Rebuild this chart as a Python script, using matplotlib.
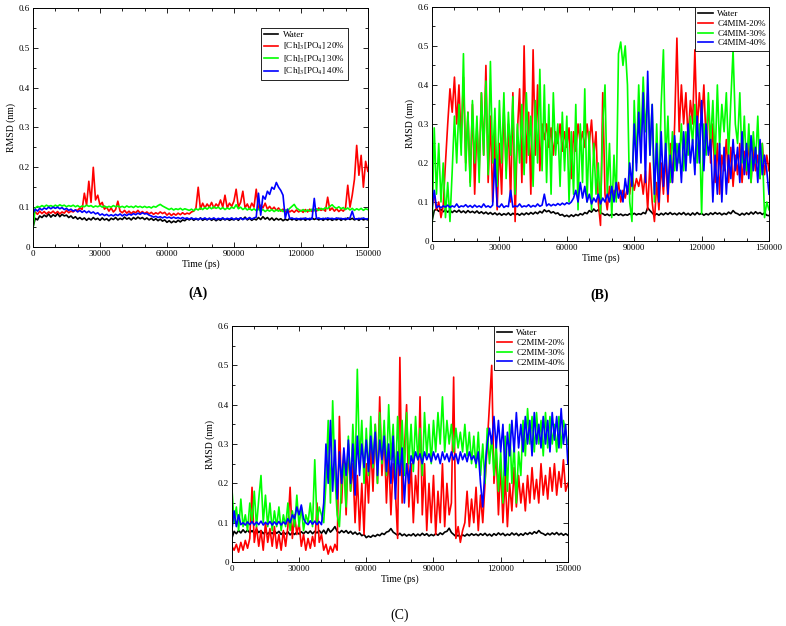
import numpy as np
import matplotlib.pyplot as plt
from matplotlib.ticker import MultipleLocator, FuncFormatter

plt.rcParams['font.family'] = ['Liberation Serif', 'DejaVu Serif']
plt.rcParams['mathtext.fontset'] = 'stix'

# time axis, one reading every 1000 ps
time_ps = np.arange(0, 150001, 1000)

# ---- panel A: [Ch]3[PO4] ----
a_water = [0.050, 0.072, 0.068, 0.078, 0.074, 0.080, 0.076, 0.083, 0.075, 0.081,
           0.077, 0.084, 0.076, 0.082, 0.078, 0.080, 0.074, 0.078, 0.072, 0.076,
           0.070, 0.074, 0.069, 0.073, 0.067, 0.072, 0.068, 0.074, 0.069, 0.072,
           0.067, 0.073, 0.068, 0.071, 0.066, 0.072, 0.069, 0.074, 0.068, 0.072,
           0.069, 0.075, 0.070, 0.073, 0.068, 0.074, 0.070, 0.075, 0.071, 0.074,
           0.069, 0.073, 0.068, 0.072, 0.067, 0.071, 0.066, 0.070, 0.065, 0.068,
           0.062, 0.066, 0.061, 0.065, 0.062, 0.067, 0.063, 0.068, 0.066, 0.071,
           0.068, 0.072, 0.067, 0.071, 0.068, 0.073, 0.067, 0.071, 0.068, 0.072,
           0.067, 0.071, 0.066, 0.070, 0.067, 0.072, 0.068, 0.071, 0.067, 0.070,
           0.068, 0.072, 0.067, 0.073, 0.069, 0.075, 0.068, 0.072, 0.067, 0.071,
           0.068, 0.074, 0.069, 0.076, 0.070, 0.074, 0.068, 0.073, 0.067, 0.072,
           0.068, 0.071, 0.066, 0.070, 0.067, 0.072, 0.068, 0.071, 0.067, 0.070,
           0.068, 0.072, 0.067, 0.071, 0.068, 0.073, 0.069, 0.072, 0.068, 0.071,
           0.067, 0.072, 0.068, 0.071, 0.067, 0.070, 0.068, 0.072, 0.067, 0.071,
           0.068, 0.073, 0.069, 0.072, 0.068, 0.071, 0.067, 0.072, 0.068, 0.070,
           0.068]
a_20 = [0.080, 0.088, 0.082, 0.090, 0.084, 0.089, 0.083, 0.088, 0.085, 0.090,
        0.084, 0.089, 0.083, 0.088, 0.085, 0.092, 0.086, 0.090, 0.088, 0.093,
        0.092, 0.098, 0.094, 0.135, 0.105, 0.165, 0.112, 0.200, 0.118, 0.130,
        0.105, 0.112, 0.095, 0.100, 0.090, 0.098, 0.088, 0.094, 0.115, 0.090,
        0.086, 0.092, 0.085, 0.090, 0.084, 0.089, 0.086, 0.092, 0.085, 0.089,
        0.084, 0.088, 0.083, 0.087, 0.082, 0.086, 0.083, 0.088, 0.084, 0.087,
        0.080, 0.085, 0.079, 0.084, 0.080, 0.085, 0.081, 0.086, 0.082, 0.085,
        0.083, 0.088, 0.090, 0.098, 0.150, 0.095, 0.110, 0.098, 0.108, 0.100,
        0.112, 0.098, 0.108, 0.102, 0.118, 0.100, 0.130, 0.098, 0.110, 0.102,
        0.115, 0.145, 0.100, 0.112, 0.140, 0.098, 0.108, 0.095, 0.110, 0.100,
        0.145, 0.095, 0.105, 0.098, 0.110, 0.095, 0.102, 0.094, 0.100, 0.092,
        0.098, 0.090, 0.095, 0.088, 0.094, 0.088, 0.092, 0.087, 0.093, 0.088,
        0.092, 0.087, 0.094, 0.088, 0.095, 0.089, 0.094, 0.090, 0.098, 0.092,
        0.095, 0.090, 0.125, 0.092, 0.098, 0.090, 0.096, 0.089, 0.094, 0.090,
        0.098, 0.155, 0.100, 0.130, 0.170, 0.255, 0.180, 0.230, 0.150, 0.215,
        0.190]
a_30 = [0.045, 0.098, 0.102, 0.100, 0.104, 0.101, 0.105, 0.102, 0.104, 0.101,
        0.105, 0.102, 0.106, 0.103, 0.105, 0.101, 0.104, 0.102, 0.105, 0.101,
        0.104, 0.100, 0.103, 0.101, 0.105, 0.102, 0.104, 0.100, 0.103, 0.101,
        0.104, 0.100, 0.103, 0.099, 0.102, 0.100, 0.104, 0.101, 0.103, 0.100,
        0.102, 0.099, 0.103, 0.100, 0.102, 0.099, 0.103, 0.100, 0.102, 0.099,
        0.102, 0.099, 0.101, 0.098, 0.102, 0.100, 0.104, 0.107, 0.103, 0.100,
        0.097, 0.094, 0.097, 0.093, 0.096, 0.094, 0.097, 0.093, 0.096, 0.094,
        0.092, 0.095, 0.091, 0.096, 0.093, 0.098, 0.094, 0.099, 0.095, 0.100,
        0.096, 0.101, 0.097, 0.100, 0.095, 0.099, 0.094, 0.098, 0.095, 0.100,
        0.097, 0.106, 0.096, 0.100, 0.094, 0.098, 0.093, 0.097, 0.092, 0.096,
        0.091, 0.095, 0.090, 0.094, 0.089, 0.093, 0.090, 0.094, 0.089, 0.093,
        0.090, 0.094, 0.089, 0.093, 0.091, 0.097, 0.102, 0.107, 0.098, 0.094,
        0.090, 0.094, 0.089, 0.093, 0.090, 0.095, 0.091, 0.096, 0.092, 0.097,
        0.094, 0.099, 0.096, 0.102, 0.106, 0.100, 0.097, 0.101, 0.096, 0.099,
        0.094, 0.098, 0.093, 0.097, 0.092, 0.096, 0.093, 0.097, 0.092, 0.096,
        0.094]
a_40 = [0.085, 0.095, 0.090, 0.097, 0.093, 0.098, 0.095, 0.100, 0.096, 0.100,
        0.097, 0.100, 0.096, 0.099, 0.094, 0.097, 0.092, 0.095, 0.090, 0.093,
        0.088, 0.092, 0.087, 0.091, 0.086, 0.090, 0.085, 0.088, 0.083, 0.086,
        0.080, 0.083, 0.079, 0.082, 0.078, 0.081, 0.078, 0.082, 0.079, 0.083,
        0.078, 0.082, 0.079, 0.083, 0.080, 0.084, 0.081, 0.085, 0.082, 0.086,
        0.083, 0.084, 0.080, 0.078, 0.075, 0.077, 0.074, 0.076, 0.073, 0.076,
        0.073, 0.075, 0.072, 0.075, 0.072, 0.074, 0.071, 0.074, 0.071, 0.073,
        0.070, 0.073, 0.070, 0.072, 0.069, 0.072, 0.070, 0.073, 0.069, 0.072,
        0.070, 0.073, 0.069, 0.072, 0.070, 0.073, 0.069, 0.072, 0.070, 0.073,
        0.069, 0.072, 0.070, 0.073, 0.069, 0.072, 0.070, 0.074, 0.070, 0.073,
        0.075, 0.135, 0.080, 0.128, 0.120, 0.140, 0.132, 0.150, 0.145, 0.162,
        0.150, 0.142, 0.130, 0.072, 0.095, 0.071, 0.073, 0.070, 0.072, 0.070,
        0.072, 0.070, 0.073, 0.070, 0.072, 0.070, 0.122, 0.071, 0.073, 0.070,
        0.072, 0.070, 0.073, 0.071, 0.072, 0.070, 0.073, 0.071, 0.072, 0.070,
        0.072, 0.070, 0.073, 0.090, 0.071, 0.070, 0.072, 0.070, 0.073, 0.070,
        0.071]

# ---- panel B: C4MIM ----
b_water = [0.050, 0.078, 0.082, 0.076, 0.081, 0.075, 0.080, 0.074, 0.079, 0.073,
           0.078, 0.074, 0.079, 0.073, 0.077, 0.072, 0.078, 0.073, 0.076, 0.072,
           0.077, 0.071, 0.075, 0.070, 0.074, 0.069, 0.073, 0.068, 0.072, 0.067,
           0.071, 0.066, 0.070, 0.067, 0.072, 0.066, 0.071, 0.067, 0.070, 0.066,
           0.071, 0.067, 0.072, 0.068, 0.073, 0.069, 0.074, 0.070, 0.076, 0.072,
           0.080, 0.075, 0.078, 0.072, 0.075, 0.070, 0.072, 0.066, 0.068, 0.063,
           0.066, 0.062, 0.067, 0.063, 0.068, 0.065, 0.070, 0.067, 0.073, 0.070,
           0.078, 0.074, 0.082, 0.076, 0.080, 0.072, 0.070, 0.066, 0.069, 0.065,
           0.069, 0.066, 0.070, 0.066, 0.069, 0.065, 0.068, 0.066, 0.070, 0.067,
           0.071, 0.067, 0.070, 0.068, 0.073, 0.070, 0.085, 0.078, 0.072, 0.066,
           0.070, 0.066, 0.071, 0.067, 0.072, 0.068, 0.073, 0.068, 0.071, 0.067,
           0.072, 0.068, 0.073, 0.067, 0.071, 0.066, 0.072, 0.067, 0.073, 0.068,
           0.071, 0.066, 0.070, 0.067, 0.072, 0.068, 0.073, 0.069, 0.072, 0.067,
           0.071, 0.068, 0.074, 0.070, 0.078, 0.072, 0.070, 0.066, 0.071, 0.067,
           0.072, 0.068, 0.074, 0.069, 0.075, 0.070, 0.073, 0.068, 0.072, 0.066,
           0.065]
b_20 = [0.09, 0.12, 0.08, 0.10, 0.06, 0.09, 0.20, 0.30, 0.39, 0.33,
        0.42, 0.30, 0.40, 0.25, 0.42, 0.20, 0.33, 0.15, 0.35, 0.12,
        0.30, 0.18, 0.38, 0.22, 0.45, 0.15, 0.32, 0.10, 0.28, 0.08,
        0.25, 0.12, 0.35, 0.18, 0.30, 0.10, 0.38, 0.05, 0.28, 0.39,
        0.15, 0.50, 0.20, 0.33, 0.12, 0.49, 0.22, 0.40, 0.18, 0.30,
        0.26, 0.30, 0.24, 0.29, 0.22, 0.28, 0.25, 0.30, 0.23, 0.28,
        0.24, 0.29, 0.16, 0.28, 0.23, 0.30, 0.25, 0.28, 0.24, 0.30,
        0.25, 0.31, 0.22, 0.28, 0.10, 0.04, 0.38, 0.12, 0.08, 0.14,
        0.10, 0.13, 0.11, 0.15, 0.10, 0.13, 0.11, 0.14, 0.12, 0.17,
        0.13, 0.16, 0.14, 0.17, 0.12, 0.18, 0.08, 0.20, 0.10, 0.05,
        0.15, 0.08, 0.20, 0.12, 0.22, 0.10, 0.25, 0.15, 0.30, 0.52,
        0.28, 0.40, 0.30, 0.38, 0.26, 0.36, 0.30, 0.49, 0.28, 0.38,
        0.30, 0.40, 0.25, 0.36, 0.20, 0.30, 0.15, 0.25, 0.12, 0.22,
        0.18, 0.26, 0.15, 0.24, 0.14, 0.22, 0.17, 0.25, 0.15, 0.23,
        0.17, 0.26, 0.15, 0.24, 0.18, 0.22, 0.16, 0.25, 0.17, 0.22,
        0.18]
b_30 = [0.02, 0.29, 0.12, 0.25, 0.10, 0.20, 0.06, 0.15, 0.05, 0.18,
        0.32, 0.20, 0.35, 0.22, 0.48, 0.18, 0.33, 0.14, 0.36, 0.20,
        0.32, 0.15, 0.38, 0.22, 0.41, 0.17, 0.46, 0.20, 0.34, 0.14,
        0.36, 0.20, 0.38, 0.16, 0.33, 0.22, 0.37, 0.12, 0.30, 0.20,
        0.35, 0.17, 0.38, 0.22, 0.32, 0.14, 0.36, 0.20, 0.44, 0.18,
        0.40, 0.15, 0.35, 0.12, 0.38, 0.22, 0.30, 0.14, 0.33, 0.18,
        0.32, 0.10, 0.28, 0.12, 0.35, 0.08, 0.30, 0.15, 0.39, 0.10,
        0.28, 0.08, 0.25, 0.12, 0.20, 0.07, 0.30, 0.40, 0.12, 0.25,
        0.06, 0.22, 0.10, 0.48, 0.51, 0.45, 0.50, 0.40, 0.10, 0.05,
        0.36, 0.20, 0.40, 0.25, 0.42, 0.28, 0.38, 0.22, 0.35, 0.10,
        0.30, 0.12, 0.35, 0.49, 0.20, 0.32, 0.15, 0.28, 0.18, 0.25,
        0.20, 0.30, 0.18, 0.28, 0.22, 0.32, 0.25, 0.35, 0.20, 0.30,
        0.07, 0.30, 0.22, 0.38, 0.25, 0.36, 0.20, 0.40, 0.24, 0.35,
        0.28, 0.38, 0.22, 0.36, 0.49, 0.30, 0.25, 0.38, 0.20, 0.32,
        0.18, 0.30, 0.15, 0.28, 0.20, 0.32, 0.16, 0.25, 0.06, 0.10,
        0.08]
b_40 = [0.080, 0.130, 0.085, 0.090, 0.085, 0.090, 0.087, 0.092, 0.086, 0.090,
        0.087, 0.095, 0.086, 0.090, 0.088, 0.093, 0.087, 0.091, 0.086, 0.092,
        0.087, 0.090, 0.086, 0.095, 0.087, 0.090, 0.086, 0.092, 0.210, 0.090,
        0.087, 0.095, 0.086, 0.090, 0.088, 0.130, 0.087, 0.090, 0.088, 0.095,
        0.087, 0.090, 0.088, 0.093, 0.087, 0.091, 0.088, 0.095, 0.089, 0.092,
        0.120, 0.090, 0.095, 0.090, 0.094, 0.091, 0.096, 0.092, 0.097, 0.093,
        0.098, 0.095, 0.100, 0.110, 0.130, 0.100, 0.150, 0.110, 0.140, 0.100,
        0.120, 0.095, 0.110, 0.100, 0.120, 0.095, 0.110, 0.100, 0.120, 0.100,
        0.140, 0.100, 0.150, 0.110, 0.130, 0.100, 0.160, 0.120, 0.200, 0.140,
        0.300, 0.180, 0.330, 0.200, 0.380, 0.150, 0.435, 0.220, 0.350, 0.120,
        0.250, 0.100, 0.280, 0.140, 0.250, 0.120, 0.220, 0.150, 0.270, 0.180,
        0.250, 0.150, 0.280, 0.180, 0.300, 0.200, 0.260, 0.170, 0.320, 0.200,
        0.360, 0.180, 0.300, 0.220, 0.260, 0.100, 0.220, 0.120, 0.250, 0.100,
        0.240, 0.120, 0.220, 0.160, 0.260, 0.180, 0.240, 0.150, 0.280, 0.170,
        0.250, 0.160, 0.270, 0.180, 0.240, 0.150, 0.260, 0.170, 0.220, 0.180,
        0.120]

# ---- panel C: C2MIM ----
c_water = [0.060, 0.078, 0.072, 0.080, 0.074, 0.082, 0.075, 0.081, 0.074, 0.080,
           0.073, 0.083, 0.075, 0.080, 0.072, 0.078, 0.071, 0.077, 0.072, 0.079,
           0.073, 0.078, 0.070, 0.076, 0.071, 0.077, 0.069, 0.075, 0.070, 0.076,
           0.071, 0.077, 0.072, 0.078, 0.073, 0.079, 0.072, 0.078, 0.074, 0.080,
           0.073, 0.081, 0.072, 0.085, 0.076, 0.082, 0.090, 0.078, 0.074, 0.080,
           0.075, 0.080, 0.073, 0.078, 0.071, 0.076, 0.070, 0.074, 0.067, 0.070,
           0.062, 0.066, 0.063, 0.068, 0.065, 0.070, 0.067, 0.073, 0.070, 0.076,
           0.078, 0.085, 0.076, 0.072, 0.068, 0.073, 0.067, 0.071, 0.066, 0.070,
           0.067, 0.072, 0.066, 0.071, 0.067, 0.073, 0.068, 0.072, 0.066, 0.070,
           0.067, 0.072, 0.068, 0.074, 0.070, 0.076, 0.078, 0.086, 0.075, 0.070,
           0.065, 0.068, 0.064, 0.069, 0.066, 0.071, 0.067, 0.072, 0.068, 0.071,
           0.067, 0.072, 0.068, 0.073, 0.067, 0.071, 0.066, 0.072, 0.068, 0.074,
           0.069, 0.073, 0.067, 0.071, 0.068, 0.074, 0.069, 0.073, 0.067, 0.072,
           0.068, 0.074, 0.070, 0.075, 0.071, 0.077, 0.073, 0.080, 0.074, 0.072,
           0.068, 0.073, 0.069, 0.074, 0.070, 0.075, 0.069, 0.073, 0.068, 0.072,
           0.068]
c_20 = [0.040, 0.030, 0.045, 0.025, 0.050, 0.030, 0.055, 0.035, 0.060, 0.190,
        0.050, 0.090, 0.040, 0.080, 0.030, 0.100, 0.050, 0.085, 0.040, 0.090,
        0.035, 0.070, 0.030, 0.080, 0.040, 0.090, 0.190, 0.060, 0.120, 0.070,
        0.100, 0.040, 0.070, 0.030, 0.060, 0.035, 0.065, 0.040, 0.150, 0.050,
        0.070, 0.030, 0.045, 0.020, 0.040, 0.025, 0.045, 0.030, 0.370, 0.150,
        0.280, 0.120, 0.300, 0.180, 0.250, 0.100, 0.220, 0.080, 0.200, 0.070,
        0.250, 0.150, 0.300, 0.180, 0.350, 0.200, 0.420, 0.220, 0.330, 0.150,
        0.280, 0.120, 0.250, 0.180, 0.060, 0.520, 0.150, 0.280, 0.400, 0.140,
        0.250, 0.100, 0.220, 0.150, 0.420, 0.120, 0.250, 0.080, 0.200, 0.100,
        0.220, 0.070, 0.180, 0.100, 0.250, 0.090, 0.200, 0.120, 0.150, 0.470,
        0.060, 0.090, 0.050, 0.080, 0.100, 0.180, 0.090, 0.160, 0.100, 0.190,
        0.080, 0.170, 0.100, 0.200, 0.300, 0.400, 0.500, 0.200, 0.280, 0.120,
        0.250, 0.100, 0.220, 0.090, 0.200, 0.130, 0.240, 0.140, 0.220, 0.150,
        0.200, 0.130, 0.220, 0.150, 0.240, 0.160, 0.210, 0.150, 0.250, 0.170,
        0.220, 0.160, 0.240, 0.180, 0.250, 0.170, 0.230, 0.190, 0.260, 0.180,
        0.200]
c_30 = [0.19, 0.10, 0.14, 0.08, 0.16, 0.09, 0.12, 0.08, 0.15, 0.10,
        0.18, 0.09, 0.16, 0.22, 0.10, 0.17, 0.09, 0.15, 0.08, 0.13,
        0.09, 0.14, 0.08, 0.12, 0.09, 0.15, 0.08, 0.13, 0.09, 0.17,
        0.09, 0.14, 0.08, 0.12, 0.10, 0.15, 0.09, 0.26, 0.10, 0.14,
        0.12, 0.10, 0.20, 0.36, 0.15, 0.41, 0.22, 0.12, 0.09, 0.20,
        0.25, 0.14, 0.32, 0.18, 0.35, 0.22, 0.49, 0.25, 0.36, 0.20,
        0.34, 0.22, 0.37, 0.24, 0.35, 0.20, 0.38, 0.25, 0.36, 0.22,
        0.40, 0.26, 0.35, 0.20, 0.37, 0.24, 0.36, 0.22, 0.38, 0.25,
        0.35, 0.23, 0.37, 0.26, 0.34, 0.22, 0.38, 0.27, 0.35, 0.25,
        0.36, 0.28, 0.38, 0.30, 0.42, 0.28, 0.36, 0.30, 0.35, 0.28,
        0.34, 0.29, 0.33, 0.28, 0.35, 0.27, 0.33, 0.25, 0.32, 0.24,
        0.33, 0.22, 0.30, 0.20, 0.34, 0.25, 0.32, 0.22, 0.30, 0.18,
        0.28, 0.15, 0.32, 0.18, 0.35, 0.20, 0.30, 0.15, 0.28, 0.22,
        0.36, 0.27, 0.39, 0.30, 0.37, 0.28, 0.38, 0.30, 0.36, 0.27,
        0.38, 0.29, 0.37, 0.30, 0.35, 0.28, 0.37, 0.29, 0.36, 0.33,
        0.30]
c_40 = [0.080, 0.130, 0.090, 0.120, 0.095, 0.100, 0.094, 0.102, 0.095, 0.103,
        0.094, 0.102, 0.095, 0.104, 0.094, 0.101, 0.095, 0.103, 0.094, 0.102,
        0.095, 0.103, 0.094, 0.102, 0.096, 0.110, 0.100, 0.120, 0.110, 0.140,
        0.120, 0.145, 0.110, 0.100, 0.095, 0.105, 0.096, 0.104, 0.095, 0.103,
        0.095, 0.150, 0.300, 0.200, 0.360, 0.180, 0.310, 0.160, 0.280, 0.200,
        0.290, 0.220, 0.310, 0.200, 0.300, 0.170, 0.320, 0.220, 0.300, 0.240,
        0.310, 0.230, 0.320, 0.250, 0.330, 0.220, 0.310, 0.260, 0.320, 0.230,
        0.300, 0.200, 0.320, 0.160, 0.280, 0.220, 0.290, 0.150, 0.250, 0.200,
        0.270, 0.250, 0.280, 0.260, 0.275, 0.250, 0.280, 0.260, 0.275, 0.255,
        0.280, 0.260, 0.275, 0.250, 0.280, 0.260, 0.275, 0.255, 0.280, 0.260,
        0.275, 0.250, 0.280, 0.260, 0.275, 0.255, 0.280, 0.260, 0.270, 0.250,
        0.280, 0.200, 0.140, 0.240, 0.300, 0.340, 0.300, 0.370, 0.290, 0.360,
        0.280, 0.350, 0.220, 0.330, 0.270, 0.360, 0.280, 0.380, 0.290, 0.350,
        0.280, 0.370, 0.300, 0.360, 0.270, 0.380, 0.300, 0.350, 0.290, 0.370,
        0.300, 0.360, 0.280, 0.380, 0.310, 0.370, 0.290, 0.390, 0.300, 0.350,
        0.250]

a_labels = ['Water', '[Ch]$_3$[PO$_4$] 20%', '[Ch]$_3$[PO$_4$] 30%', '[Ch]$_3$[PO$_4$] 40%']
b_labels = ['Water', 'C4MIM-20%', 'C4MIM-30%', 'C4MIM-40%']
c_labels = ['Water', 'C2MIM-20%', 'C2MIM-30%', 'C2MIM-40%']
colors = ['black', '#ff0000', '#00ff00', '#0000ff']

fig = plt.figure(figsize=(7.86, 6.26), dpi=100)
ax_a = fig.add_axes([0.042, 0.6054, 0.426, 0.382])
ax_b = fig.add_axes([0.5496, 0.615, 0.4288, 0.374])
ax_c = fig.add_axes([0.295, 0.1022, 0.4275, 0.377])


def draw_panel(ax, series, labels, legend_anchor):
    for ys, lab, col in zip(series, labels, colors):
        ax.plot(time_ps, ys, color=col, lw=1.2, label=lab)
    ax.set_xlim(0, 150000)
    ax.set_ylim(0, 0.6)
    ax.xaxis.set_major_locator(MultipleLocator(30000))
    ax.xaxis.set_minor_locator(MultipleLocator(10000))
    ax.yaxis.set_major_locator(MultipleLocator(0.1))
    ax.yaxis.set_minor_locator(MultipleLocator(0.05))
    ax.xaxis.set_major_formatter(FuncFormatter(lambda v, p: '%d' % v))
    ax.yaxis.set_major_formatter(FuncFormatter(lambda v, p: '0' if abs(v) < 1e-9 else '%g' % round(v, 2)))
    ax.tick_params(which='both', direction='in', top=True, right=True,
                   labelsize=6.5, width=0.6, pad=2)
    ax.tick_params(which='major', length=3.5)
    ax.tick_params(which='minor', length=2)
    for sp in ax.spines.values():
        sp.set_linewidth(0.7)
    ax.set_xlabel('Time (ps)', fontsize=7, labelpad=1)
    ax.set_ylabel('RMSD (nm)', fontsize=7, labelpad=2)
    leg = ax.legend(loc='upper right', bbox_to_anchor=legend_anchor, fontsize=6.5,
                    fancybox=False, framealpha=1, edgecolor='black', borderaxespad=0,
                    handlelength=1.6, labelspacing=0.15, borderpad=0.35, handletextpad=0.5)
    leg.get_frame().set_linewidth(0.6)


draw_panel(ax_a, [a_water, a_20, a_30, a_40], a_labels, (0.94, 0.916))
draw_panel(ax_b, [b_water, b_20, b_30, b_40], b_labels, (1.0, 1.0))
draw_panel(ax_c, [c_water, c_20, c_30, c_40], c_labels, (1.0, 1.0))

fig.text(0.252, 1 - 293 / 626, '(A)', fontsize=10, fontweight='bold', ha='center', va='center')
fig.text(0.763, 1 - 295 / 626, '(B)', fontsize=10, fontweight='bold', ha='center', va='center')
fig.text(0.509, 1 - 615 / 626, '(C)', fontsize=10, ha='center', va='center')

fig.savefig('out.png', dpi=100)
